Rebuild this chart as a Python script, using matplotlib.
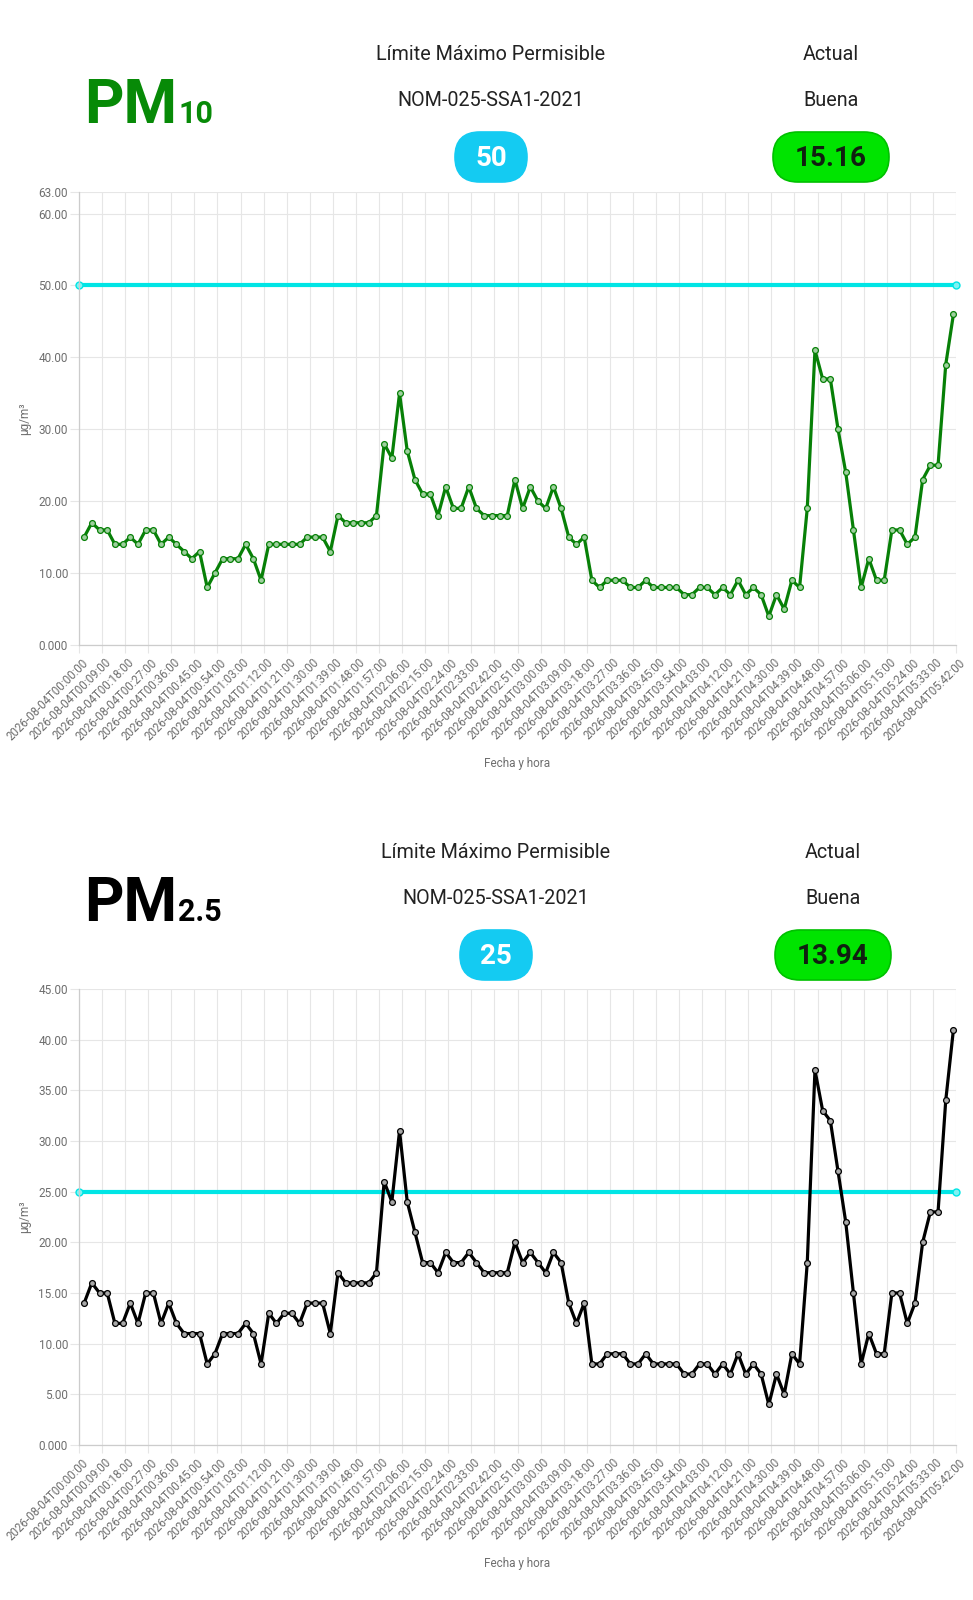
import numpy as np
import pandas as pd
import matplotlib
matplotlib.use("Agg")
import matplotlib.pyplot as plt
from matplotlib.patches import FancyBboxPatch
from matplotlib.transforms import ScaledTranslation

plt.rcParams['font.family'] = ['Roboto', 'DejaVu Sans']

# lecturas cada 3 min, primera a las 00:02
pm10 = [15, 17, 16, 16, 14, 14, 15, 14, 16, 16,
        14, 15, 14, 13, 12, 13, 8, 10, 12, 12,
        12, 14, 12, 9, 14, 14, 14, 14, 14, 15,
        15, 15, 13, 18, 17, 17, 17, 17, 18, 28,
        26, 35, 27, 23, 21, 21, 18, 22, 19, 19,
        22, 19, 18, 18, 18, 18, 23, 19, 22, 20,
        19, 22, 19, 15, 14, 15, 9, 8, 9, 9,
        9, 8, 8, 9, 8, 8, 8, 8, 7, 7,
        8, 8, 7, 8, 7, 9, 7, 8, 7, 4,
        7, 5, 9, 8, 19, 41, 37, 37, 30, 24,
        16, 8, 12, 9, 9, 16, 16, 14, 15, 23,
        25, 25, 39, 46]

pm25 = [14, 16, 15, 15, 12, 12, 14, 12, 15, 15,
        12, 14, 12, 11, 11, 11, 8, 9, 11, 11,
        11, 12, 11, 8, 13, 12, 13, 13, 12, 14,
        14, 14, 11, 17, 16, 16, 16, 16, 17, 26,
        24, 31, 24, 21, 18, 18, 17, 19, 18, 18,
        19, 18, 17, 17, 17, 17, 20, 18, 19, 18,
        17, 19, 18, 14, 12, 14, 8, 8, 9, 9,
        9, 8, 8, 9, 8, 8, 8, 8, 7, 7,
        8, 8, 7, 8, 7, 9, 7, 8, 7, 4,
        7, 5, 9, 8, 18, 37, 33, 32, 27, 22,
        15, 8, 11, 9, 9, 15, 15, 12, 14, 20,
        23, 23, 34, 41]

limite_pm10 = 50
limite_pm25 = 25
actual_pm10 = "15.16"
actual_pm25 = "13.94"
calidad = "Buena"
norma = "NOM-025-SSA1-2021"

yticks_pm10 = [0, 10, 20, 30, 40, 50, 60, 63]
yticks_pm25 = [0, 5, 10, 15, 20, 25, 30, 35, 40, 45]

t0 = pd.Timestamp("2026-08-04 00:00:00")
tiempos = pd.date_range("2026-08-04 00:02:00", periods=len(pm10), freq="3min")
etiquetas = pd.date_range("2026-08-04 00:00:00", "2026-08-04 05:42:00", freq="9min")

x = (tiempos - t0).total_seconds() / 60
xt = (etiquetas - t0).total_seconds() / 60
xt_lab = [e.strftime("%Y-%m-%dT%H:%M:%S") for e in etiquetas]

W, H = 973, 1600
fig = plt.figure(figsize=(W / 100, H / 100), dpi=100)
ov = fig.add_axes([0, 0, 1, 1])
ov.set_xlim(0, W)
ov.set_ylim(H, 0)
ov.axis('off')

GRID = '#e6e6e6'
TXT = '#6e6e6e'


def pill(cx, cy, w, h, fc, ec, txt, tc):
    r = h / 2
    p = FancyBboxPatch((cx - w / 2 + r, cy), w - 2 * r, 0,
                       boxstyle="round,pad=%g" % r, fc=fc, ec=ec, lw=1.2)
    ov.add_patch(p)
    ov.text(cx, cy + 1, txt, ha='center', va='center', fontsize=20,
            fontweight='bold', color=tc)


def cabecera(y0, nombre, sub, color, limite, actual, xl, xa):
    t = ov.text(84, y0 + 123, nombre, fontsize=44, fontweight='bold',
                color=color, va='baseline')
    fig.canvas.draw()
    bb = t.get_window_extent()
    ov.text(bb.x1 + 1, y0 + 123, sub, fontsize=22, fontweight='bold',
            color=color, va='baseline')
    ov.text(xl, y0 + 55, "Límite Máximo Permisible", ha='center', va='center',
            fontsize=14.2, color='#222222')
    ov.text(xl, y0 + 100, norma, ha='center', va='center',
            fontsize=14.2, color='#222222')
    ov.text(xa, y0 + 55, "Actual", ha='center', va='center',
            fontsize=14.2, color='#222222')
    ov.text(xa, y0 + 100, calidad, ha='center', va='center',
            fontsize=14.2, color='#222222')
    pill(xl, y0 + 157, 72, 50, '#14cbf2', '#14cbf2', str(limite), 'white')
    pill(xa, y0 + 157, 116, 50, '#00e400', '#00c000', actual, '#102010')


def grafica(top, bot, vals, lim, yt, ymax, color, mface):
    ax = fig.add_axes([79 / W, 1 - bot / H, (956 - 79) / W, (bot - top) / H])
    ax.set_xlim(0, 342)
    ax.set_ylim(0, ymax)
    ax.plot([0, 342], [lim, lim], color='#00e5e5', lw=3, marker='o', ms=5,
            mfc='#7ff2f2', mec='#00e5e5', mew=1, clip_on=False, zorder=2)
    ax.plot(x, vals, color=color, lw=2.3, marker='o', ms=4.2, mfc=mface,
            mec=color, mew=0.9, zorder=3, clip_on=False)
    ax.set_yticks(yt, ['0.000' if v == 0 else '%.2f' % v for v in yt])
    ax.set_xticks(xt, xt_lab, rotation=45, ha='right', va='center',
                  rotation_mode='anchor')
    ax.grid(True, color=GRID, lw=0.8)
    ax.set_axisbelow(True)
    for s in ['top', 'right']:
        ax.spines[s].set_visible(False)
    for s in ['left', 'bottom']:
        ax.spines[s].set_color('#cccccc')
        ax.spines[s].set_linewidth(0.9)
    ax.tick_params(axis='y', length=6.5, width=0.8, color=GRID, pad=1.5,
                   labelsize=8.5, labelcolor=TXT)
    ax.tick_params(axis='x', length=5.8, width=0.8, color=GRID, pad=5.5,
                   labelsize=8.3, labelcolor=TXT)
    off = ScaledTranslation(7 / 100, 0, fig.dpi_scale_trans)
    for lab in ax.get_xticklabels():
        lab.set_transform(lab.get_transform() + off)
    ov.text(25, (top + bot) / 2, "µg/m³", rotation=90, ha='center',
            va='center', fontsize=8.5, color=TXT)
    ov.text((79 + 956) / 2, bot + 119, "Fecha y hora", ha='center',
            va='center', fontsize=8.5, color=TXT)
    return ax


cabecera(0, "PM", "10", '#078a07', limite_pm10, actual_pm10, 491, 831)
grafica(192, 645, pm10, limite_pm10, yticks_pm10, 63, '#078007', '#9fd09f')

cabecera(798, "PM", "2.5", '#000000', limite_pm25, actual_pm25, 496, 833)
grafica(989, 1445, pm25, limite_pm25, yticks_pm25, 45, '#000000', '#a8a8a8')

fig.savefig("out.png", dpi=100)
